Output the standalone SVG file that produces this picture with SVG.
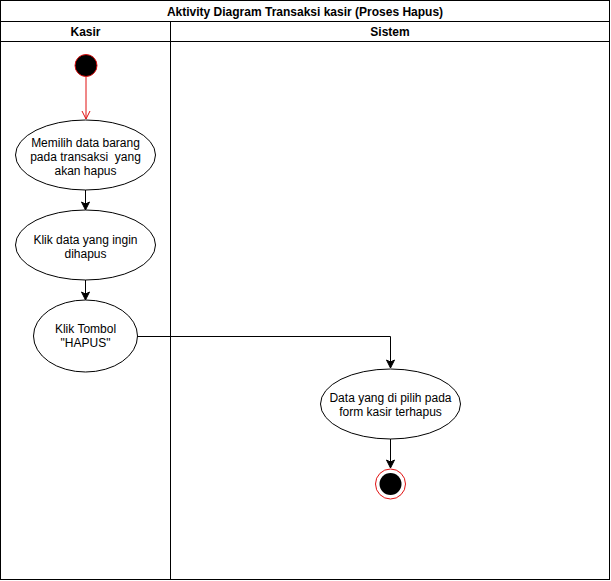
<svg xmlns="http://www.w3.org/2000/svg" width="611" height="581" viewBox="0 0 611 581">
<style>
text{font-family:"Liberation Sans",Arial,sans-serif;font-size:12px;fill:#000;text-anchor:middle}
.b{font-weight:bold}
.act{fill:#fff;stroke:#000;stroke-width:1}
.edge{fill:none;stroke:#000;stroke-width:1}
.frame{fill:#fff;stroke:#000;stroke-width:1}
</style>
<defs>
<marker id="ah" markerWidth="10" markerHeight="10" refX="9" refY="5" orient="auto" markerUnits="userSpaceOnUse">
<path d="M1,1 L9,5 L1,9 L3,5 Z" fill="#000" stroke="#000" stroke-width="1"/>
</marker>
<marker id="ahr" markerWidth="10" markerHeight="10" refX="9" refY="5" orient="auto" markerUnits="userSpaceOnUse">
<path d="M1,1 L9,5 L1,9" fill="none" stroke="#e01010" stroke-width="1"/>
</marker>
</defs>
<rect width="611" height="581" fill="#fff"/>
<g id="pool">
<rect class="frame" x="0.5" y="0.5" width="609" height="579"/>
<line class="edge" x1="0.5" y1="21.5" x2="609.5" y2="21.5"/>
<line class="edge" x1="0.5" y1="41.5" x2="609.5" y2="41.5"/>
<line class="edge" x1="170.5" y1="21.5" x2="170.5" y2="579.5"/>
<text class="b" x="305" y="16">Aktivity Diagram Transaksi kasir (Proses Hapus)</text>
<text class="b" x="85.5" y="36">Kasir</text>
<text class="b" x="390" y="36">Sistem</text>
</g>
<g id="connectors">
<line x1="86" y1="77" x2="86" y2="119" stroke="#e01010" stroke-width="1" marker-end="url(#ahr)"/>
<line class="edge" x1="85.5" y1="190" x2="85.5" y2="210" marker-end="url(#ah)"/>
<line class="edge" x1="85.5" y1="280" x2="85.5" y2="300" marker-end="url(#ah)"/>
<path class="edge" d="M137,336.5 H390.5 V368" marker-end="url(#ah)"/>
<line class="edge" x1="390.5" y1="439" x2="390.5" y2="468" marker-end="url(#ah)"/>
</g>
<g id="start">
<circle cx="86" cy="65.5" r="11" fill="#000" stroke="#e01010" stroke-width="1"/>
</g>
<g id="act1">
<ellipse class="act" cx="85.5" cy="155" rx="70" ry="35"/>
<text x="85.5" y="147">Memilih data barang</text>
<text x="85.5" y="161" xml:space="preserve">pada transaksi  yang</text>
<text x="85.5" y="175">akan hapus</text>
</g>
<g id="act2">
<ellipse class="act" cx="85.5" cy="245" rx="70" ry="35"/>
<text x="85.5" y="244">Klik data yang ingin</text>
<text x="85.5" y="258">dihapus</text>
</g>
<g id="act3">
<ellipse class="act" cx="85.5" cy="336" rx="52" ry="36"/>
<text x="85.5" y="333">Klik Tombol</text>
<text x="85.5" y="347">"HAPUS"</text>
</g>
<g id="act4">
<ellipse class="act" cx="390.5" cy="404" rx="70" ry="35"/>
<text x="390.5" y="402">Data yang di pilih pada</text>
<text x="390.5" y="416">form kasir terhapus</text>
</g>
<g id="end">
<circle cx="390.5" cy="484" r="15" fill="#fff" stroke="#e01010" stroke-width="1"/>
<circle cx="390.5" cy="484" r="11" fill="#000"/>
</g>
</svg>
